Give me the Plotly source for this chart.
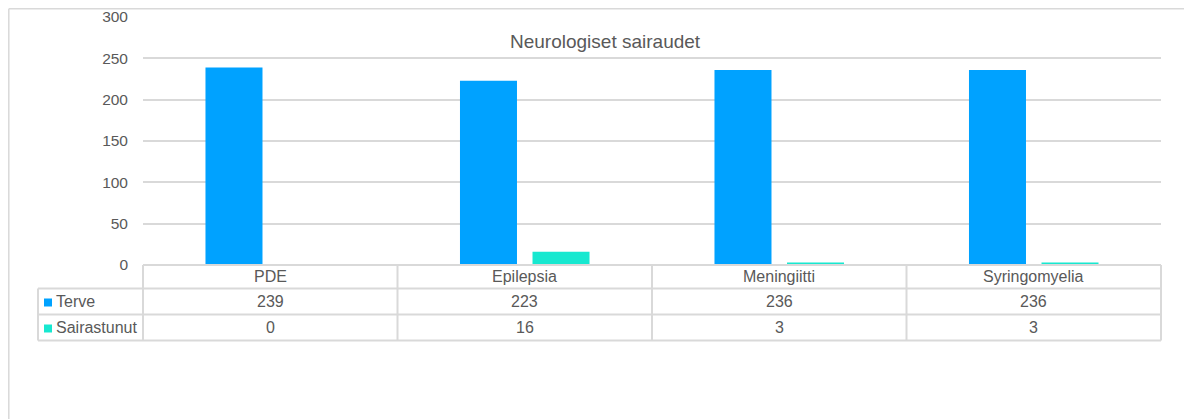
import plotly.graph_objects as go

# ---- data ----
categories = ["PDE", "Epilepsia", "Meningiitti", "Syringomyelia"]
series_names = ["Terve", "Sairastunut"]
terve = [239, 223, 236, 236]
sairastunut = [0, 16, 3, 3]
series_values = [terve, sairastunut]
y_ticks = [0, 50, 100, 150, 200, 250, 300]
title_text = "Neurologiset sairaudet"

# ---- style ----
colors = ["#00A2FF", "#17E8D0"]
grid_col = "#D9D9D9"
text_col = "#595959"
FONT = "Liberation Sans, Arial, sans-serif"

OFF = 8  # default body margin of the page
W, H = 1192 - OFF, 419 - OFF
# plot area in page pixels
PL, PR, PT, PB = 143, 1161, 17, 265
L, R, T, B = PL - OFF, PR - OFF, PT - OFF, PB - OFF


def fx(px):  # page pixel -> paper
    return (px - PL) / (PR - PL)


def fy(py):
    return (PB - py) / (PB - PT)


fig = go.Figure()
for name, vals, col in zip(series_names, series_values, colors):
    fig.add_trace(go.Bar(x=categories, y=vals, name=name, marker_color=col,
                         marker_line_width=0, showlegend=False))

shapes = []
annotations = []

# outer chart frame
shapes.append(dict(type="line", xref="paper", yref="paper", x0=fx(OFF + 0.8), x1=fx(1200),
                   y0=fy(OFF + 0.8), y1=fy(OFF + 0.8), line=dict(color=grid_col, width=1.5)))
shapes.append(dict(type="line", xref="paper", yref="paper", x0=fx(OFF + 0.8), x1=fx(OFF + 0.8),
                   y0=fy(OFF + 0.8), y1=fy(430), line=dict(color=grid_col, width=1.5)))

# data table geometry
row_edges = [265, 288.5, 314.5, 340.5]
leg_left = 38
n = len(categories)
tl = dict(color=grid_col, width=2)
shapes.append(dict(type="line", xref="paper", yref="paper", x0=0, x1=1,
                   y0=fy(row_edges[0]), y1=fy(row_edges[0]), line=tl))
for ry in row_edges[1:]:
    shapes.append(dict(type="line", xref="paper", yref="paper", x0=fx(leg_left), x1=1,
                       y0=fy(ry), y1=fy(ry), line=tl))
for i in range(n + 1):
    shapes.append(dict(type="line", xref="paper", yref="paper", x0=i / n, x1=i / n,
                       y0=fy(row_edges[0]), y1=fy(row_edges[-1]), line=tl))
shapes.append(dict(type="line", xref="paper", yref="paper", x0=fx(leg_left), x1=fx(leg_left),
                   y0=fy(row_edges[1]), y1=fy(row_edges[-1]), line=tl))

tfont = dict(family=FONT, size=16, color=text_col)
hc = (row_edges[0] + row_edges[1]) / 2
for i, c in enumerate(categories):
    annotations.append(dict(x=(i + 0.5) / n, y=fy(hc), xref="paper", yref="paper",
                            text=c, showarrow=False, font=tfont,
                            xanchor="center", yanchor="middle"))
for r, (name, vals, col) in enumerate(zip(series_names, series_values, colors)):
    cy = (row_edges[r + 1] + row_edges[r + 2]) / 2
    for i, v in enumerate(vals):
        annotations.append(dict(x=(i + 0.5) / n, y=fy(cy), xref="paper", yref="paper",
                                text=str(v), showarrow=False, font=tfont,
                                xanchor="center", yanchor="middle"))
    shapes.append(dict(type="rect", xref="paper", yref="paper",
                       x0=fx(44), x1=fx(52), y0=fy(cy - 3), y1=fy(cy + 5),
                       fillcolor=col, line=dict(width=0)))
    annotations.append(dict(x=fx(54), y=fy(cy), xref="paper", yref="paper",
                            text=name, showarrow=False, font=tfont,
                            xanchor="left", yanchor="middle"))

annotations.append(dict(x=fx(605), y=fy(41), xref="paper", yref="paper",
                        text=title_text, showarrow=False,
                        font=dict(family=FONT, size=19, color=text_col),
                        xanchor="center", yanchor="middle"))

fig.update_layout(
    width=W, height=H,
    margin=dict(l=L, r=W - R, t=T, b=H - B, pad=0, autoexpand=False),
    paper_bgcolor="white", plot_bgcolor="white",
    barmode="group", bargap=0.43, bargroupgap=0.214,
    shapes=shapes, annotations=annotations,
    font=dict(family=FONT, color=text_col),
    xaxis=dict(showticklabels=False, showgrid=False, zeroline=False, automargin=False,
               showline=False, range=[-0.5, n - 0.5]),
    yaxis=dict(range=[0, 300], tickvals=y_ticks, showgrid=True, gridcolor=grid_col,
               gridwidth=1.5, zeroline=False, showline=False, automargin=False,
               tickfont=dict(family=FONT, size=15.5, color=text_col),
               ticklabelstandoff=14),
)

fig.write_html("out.html")
